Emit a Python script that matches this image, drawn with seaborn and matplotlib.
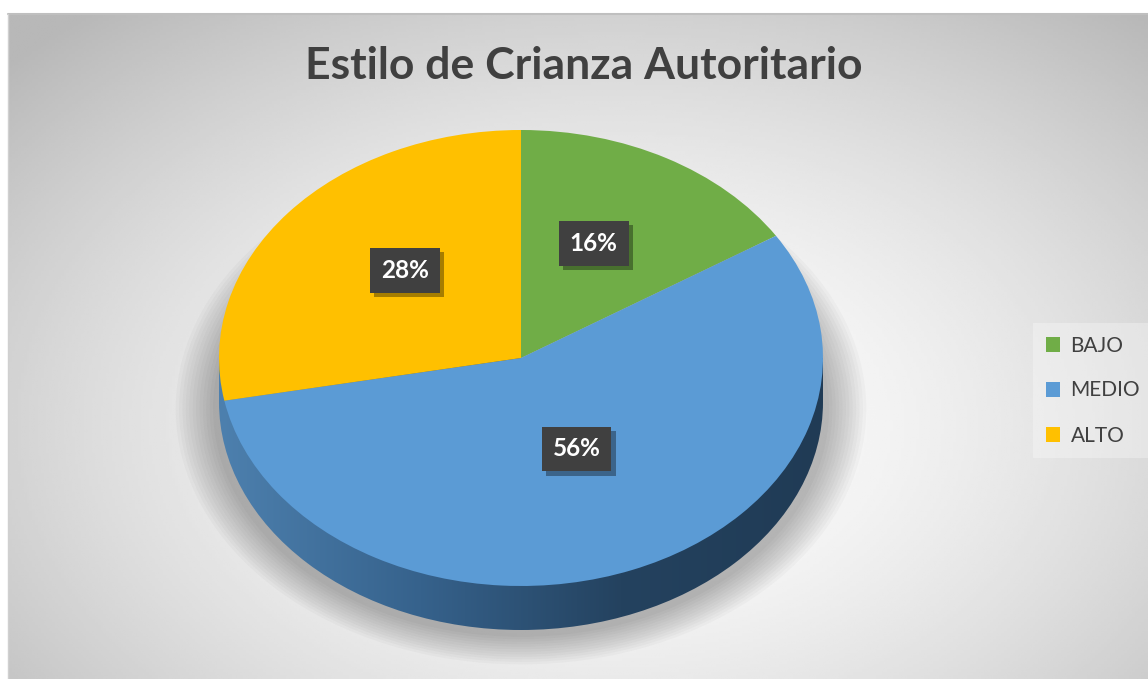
import numpy as np
import matplotlib
matplotlib.use("Agg")
import matplotlib.pyplot as plt
import seaborn as sns
from matplotlib.patches import Ellipse, Rectangle
from matplotlib.colors import LinearSegmentedColormap
import matplotlib.patheffects as pe

sns.set_theme(style="white")
plt.rcParams['font.family'] = ['Lato', 'DejaVu Sans']

# ---- data ----
categories = ["BAJO", "MEDIO", "ALTO"]
values = [16, 56, 28]
colors = ["#70AD47", "#5B9BD5", "#FFC000"]
title = "Estilo de Crianza Autoritario"

W, H = 1148, 679
fig = plt.figure(figsize=(W / 100, H / 100), dpi=100)
fig.patch.set_facecolor("white")

# ---- chart-area background (radial gradient) ----
bg = fig.add_axes([8 / W, 0, (W - 8) / W, (H - 14) / H])
bg.set_axis_off()
gx, gy = np.meshgrid(np.linspace(0, 1, 400), np.linspace(0, 1, 240))
d = np.sqrt(((gx - 0.53) / 0.75) ** 2 + ((gy - 0.62) / 0.85) ** 2)
shade = np.clip(1.0 - 0.30 * d ** 1.6, 0.72, 1.0)
bg.imshow(shade, cmap="gray", vmin=0, vmax=1, extent=(0, 1, 0, 1), aspect="auto", origin="upper")
bg.set_xlim(0, 1); bg.set_ylim(0, 1)
fig.add_artist(plt.Line2D([8 / W, 1], [(H - 14) / H] * 2, color="#bfbfbf", lw=1.5))
fig.add_artist(plt.Line2D([8 / W] * 2, [0, (H - 14) / H], color="#d0d0d0", lw=1))

# ---- pie axes: 1 data unit = RX px horizontally, RY px vertically ----
CX, CY = 521, 358          # pixel centre (top-origin)
RX, RY = 302, 228
DEPTH = 44 / RY
ax = fig.add_axes([0, 0, 1, 1])
ax.patch.set_alpha(0)

# soft shadow under the pie
for i in range(12):
    s = 1.0 + 0.011 * i
    ax.add_patch(Ellipse((0, -DEPTH - 0.03), 2 * s * 1.02, 2 * s * 1.0,
                         fc="black", ec="none", alpha=0.024, zorder=0.5))

# side of the pie (horizontal gradient)
side_cmap = LinearSegmentedColormap.from_list("side", ["#4d80ae", "#36628c", "#24425f", "#203b55"])
grad = np.linspace(0, 1, 256).reshape(1, -1)
for clip in (Ellipse((0, -DEPTH), 2, 2, transform=ax.transData),
             Rectangle((-1, -DEPTH), 2, DEPTH, transform=ax.transData)):
    im = ax.imshow(grad, cmap=side_cmap, extent=(-1, 1, -1 - DEPTH, 0),
                   aspect="auto", zorder=1)
    im.set_clip_path(clip)

wedges, texts, autotexts = ax.pie(
    values, colors=colors, startangle=90, counterclock=False, radius=1,
    autopct="%1.0f%%", pctdistance=0.5,
    wedgeprops=dict(linewidth=0, zorder=2),
    textprops=dict(color="white", fontsize=17.5, fontweight="bold"))

for t in autotexts:
    t.set_zorder(5)
    x, y = t.get_position()
    t.set_position((x, y + 15 / RY))
    t.set_bbox(dict(boxstyle="square,pad=0.45", fc="#404040", ec="none"))
    t.get_bbox_patch().set_path_effects(
        [pe.SimplePatchShadow(offset=(3, -3), shadow_rgbFace="black", alpha=0.35), pe.Normal()])

ax.set_aspect("auto")
ax.set_xlim((0 - CX) / RX, (W - CX) / RX)
ax.set_ylim((0 - (H - CY)) / RY, (H - (H - CY)) / RY)
ax.set_axis_off()

# ---- title ----
fig.text(584 / W, 1 - 66 / H, title, ha="center", va="center",
         fontsize=32, fontweight="bold", color="#404040")

# ---- legend ----
leg = ax.legend(wedges, categories, loc="upper left",
                bbox_to_anchor=(1033 / W, 1 - 323 / H), bbox_transform=fig.transFigure,
                frameon=True, fontsize=15, handlelength=0.7, handleheight=0.7,
                handletextpad=0.5, labelspacing=1.2, borderpad=0.6, borderaxespad=0)
leg.get_frame().set_facecolor("white")
leg.get_frame().set_alpha(0.3)
leg.get_frame().set_edgecolor("none")
leg.get_frame().set_boxstyle("square", pad=0)
for t in leg.get_texts():
    t.set_color("#404040")

fig.savefig("out.png", dpi=100)
